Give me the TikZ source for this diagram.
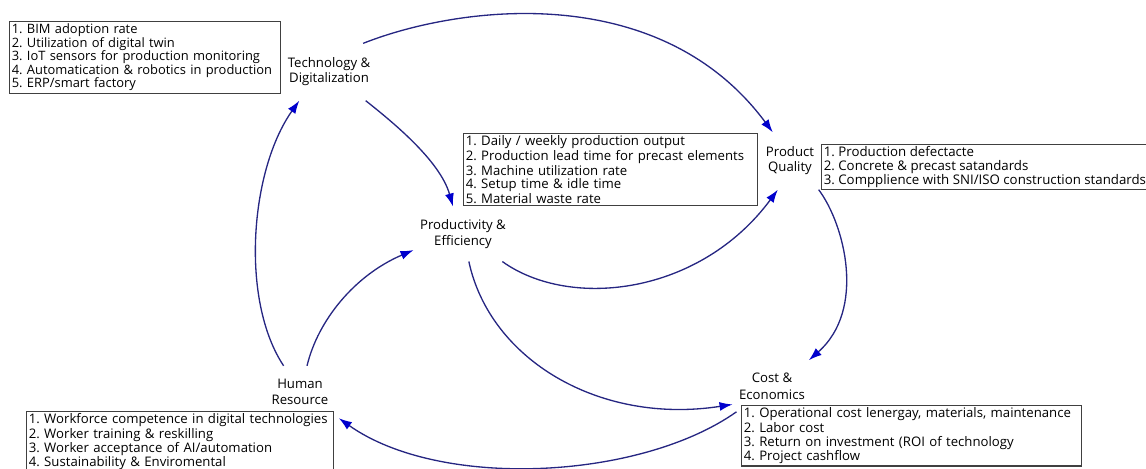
\documentclass[tikz,border=0pt]{standalone}
\usepackage{fontspec}
\setmainfont{Open Sans}
\usetikzlibrary{arrows.meta}

\definecolor{linknavy}{RGB}{38,38,130}
\definecolor{tipblue}{RGB}{0,0,205}
\frenchspacing
\lineskiplimit=-5pt
\lineskip=0pt

\begin{document}
\begin{tikzpicture}[x=0.02cm, y=-0.02cm, line width=0.7pt,
    factor/.style={align=center, inner xsep=0.12cm, inner ysep=0.24cm,
        font=\fontsize{7.5}{9.5}\selectfont},
    list/.style={draw=black!75, line width=0.6pt, align=left, anchor=north west,
        inner sep=1.3pt, font=\fontsize{7.5}{7.7}\selectfont},
    link/.style={draw=linknavy, line width=0.75pt,
        -{Latex[length=0.26cm, width=0.18cm, color=tipblue]}}]

    % frame (1146 x 468)
    \useasboundingbox (0,0) rectangle (1146,468);
    \clip (0,0) rectangle (1146,468);

    % factors
    \node[factor, inner ysep=0.28cm, font=\fontsize{7.5}{8.5}\selectfont] (tech) at (329,72) {Technology \&\\Digitalization};
    \node[factor] (prod) at (463,234) {Productivity \&\\Efficiency};
    \node[factor, inner ysep=0.28cm, font=\fontsize{7.5}{8.5}\selectfont] (qual) at (790,161) {Product\\Quality};
    \node[factor, inner xsep=0.27cm, inner ysep=0.25cm] (human) at (300,392) {Human\\Resource};
    \node[factor] (cost) at (772,386) {Cost \&\\Economics};

    % indicator lists
    \node[list, text width=5.32cm, font=\fontsize{7.35}{7.7}\selectfont] (techlist) at (9,21) {1. BIM adoption rate\\2. Utilization of digital twin\\3. IoT sensors for production monitoring\\4. Automatication \& robotics in production\\5. ERP/smart factory};
    \node[list, text width=5.78cm, font=\fontsize{7.5}{7.1}\selectfont] (prodlist) at (463,133) {1. Daily / weekly production output\\2. Production lead time for precast elements\\3. Machine utilization rate\\4. Setup time \& idle time\\5. Material waste rate};
    \node[list, font=\fontsize{7.55}{7.7}\selectfont] (quallist) at (821,144) {1. Production defectacte\\2. Concrete \& precast satandards\\3. Compplience with SNI/ISO construction standards};
    \node[list, text width=6.05cm, font=\fontsize{7.5}{8.1}\selectfont] (humanlist) at (26,411) {1. Workforce competence in digital technologies\\2. Worker training \& reskilling\\3. Worker acceptance of AI/automation\\4. Sustainability \& Enviromental};
    \node[list, text width=6.7cm, font=\fontsize{7.5}{8.1}\selectfont] (costlist) at (741,405) {1. Operational cost lenergay, materials, maintenance\\2. Labor cost\\3. Return on investment (ROI of technology\\4. Project cashflow};

    % links
    \draw[link] (tech.40) .. controls (460,5) and (660,-20) .. (qual.121);
    \draw[link] (tech.-38) .. controls (390,120) and (440,160) .. (prod.110);
    \draw[link] (human.122) .. controls (240,300) and (250,170) .. (tech.-136);
    \draw[link] (human.75) .. controls (318,320) and (355,275) .. (prod.198);
    \draw[link] (prod.-35) .. controls (570,310) and (700,295) .. (qual.247);
    \draw[link] (prod.-78) .. controls (490,360) and (600,425) .. (cost.205);
    \draw[link] (qual.-45) .. controls (845,225) and (866,310) .. (cost.35);
    \draw[link] (cost.216) .. controls (640,480) and (440,490) .. (human.-34);

\end{tikzpicture}
\end{document}
